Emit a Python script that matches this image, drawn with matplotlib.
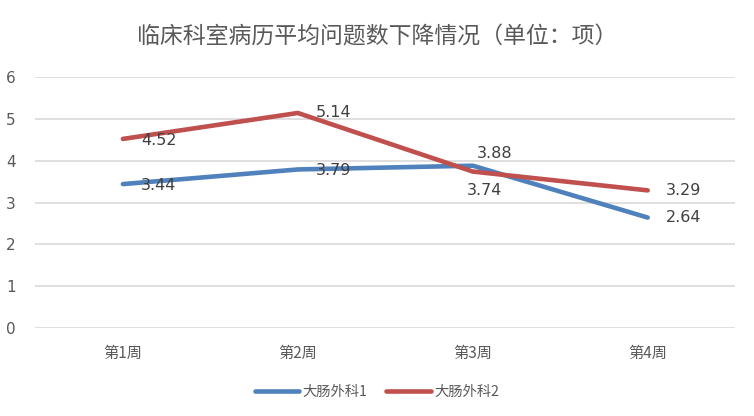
import matplotlib
matplotlib.use('Agg')
import matplotlib.pyplot as plt

plt.rcParams['font.family'] = ['Noto Sans CJK SC', 'DejaVu Sans']

weeks = ['第1周', '第2周', '第3周', '第4周']
dept1 = [3.44, 3.79, 3.88, 2.64]
dept2 = [4.52, 5.14, 3.74, 3.29]
yticks = [0, 1, 2, 3, 4, 5, 6]

blue = '#4F81BD'
red = '#C0504D'
grey = '#595959'

fig = plt.figure(figsize=(7.54, 4.16), dpi=100)
fig.patch.set_facecolor('white')
ax = fig.add_axes([0.047, 0.2115, 0.928, 0.6034])

x = list(range(len(weeks)))
ax.plot(x, dept1, color=blue, lw=3.3, solid_capstyle='round', label='大肠外科1')
ax.plot(x, dept2, color=red, lw=3.3, solid_capstyle='round', label='大肠外科2')

ax.set_xlim(-0.5, 3.5)
ax.set_ylim(0, 6)
ax.set_yticks(yticks)
ax.set_xticks(x)
ax.set_xticklabels(weeks)
ax.tick_params(axis='both', length=0, colors=grey)
ax.tick_params(axis='y', pad=14, labelsize=11)
ax.tick_params(axis='x', pad=12, labelsize=11)
for lbl in ax.get_yticklabels():
    lbl.set_family('DejaVu Sans')
ax.grid(axis='y', color='#D9D9D9', lw=1.2)
ax.set_axisbelow(True)
for s in ax.spines.values():
    s.set_visible(False)

# data labels (offsets in points)
offs1 = [(13, -1), (13, -1), (3, 9), (13, 0)]
offs2 = [(13, -1), (13, 0), (-4, -14), (13, 0)]
for xi, v, o in zip(x, dept1, offs1):
    ax.annotate(f'{v:.2f}', (xi, v), xytext=o, textcoords='offset points',
                ha='left', va='center', fontsize=11.5, color='#404040',
                family='DejaVu Sans')
for xi, v, o in zip(x, dept2, offs2):
    ax.annotate(f'{v:.2f}', (xi, v), xytext=o, textcoords='offset points',
                ha='left', va='center', fontsize=11.5, color='#404040',
                family='DejaVu Sans')

fig.text(0.5, 0.912, '临床科室病历平均问题数下降情况（单位：项）', ha='center', va='center',
         fontsize=16.5, color=grey)

fig.legend(loc='center', bbox_to_anchor=(0.5, 0.057), ncol=2, frameon=False,
           fontsize=10.3, labelcolor=grey, handlelength=3.1, handletextpad=0.25,
           columnspacing=1.3)

plt.savefig('out.png', dpi=100, facecolor='white')
plt.close()
